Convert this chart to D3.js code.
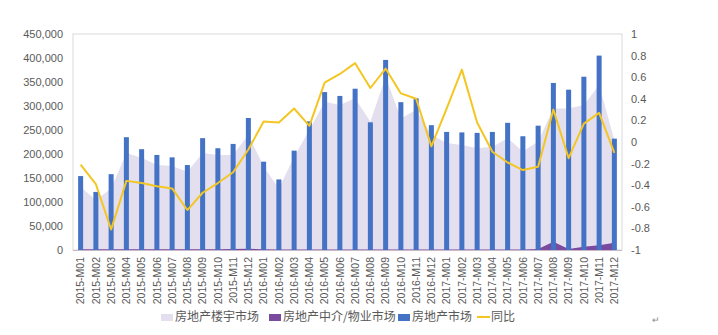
<!DOCTYPE html>
<html><head><meta charset="utf-8">
<script src="https://cdn.jsdelivr.net/npm/d3@7"></script>
<style>body{margin:0;background:#fff}svg{display:block}text{font-family:"Noto Sans CJK SC","Liberation Sans",sans-serif}</style>
</head><body><svg id="c" width="718" height="335"></svg>
<script>
const months = [
"2015-M01","2015-M02","2015-M03","2015-M04","2015-M05","2015-M06","2015-M07","2015-M08","2015-M09","2015-M10","2015-M11","2015-M12",
"2016-M01","2016-M02","2016-M03","2016-M04","2016-M05","2016-M06","2016-M07","2016-M08","2016-M09","2016-M10","2016-M11","2016-M12",
"2017-M01","2017-M02","2017-M03","2017-M04","2017-M05","2017-M06","2017-M07","2017-M08","2017-M09","2017-M10","2017-M11","2017-M12"];
const building = [131000,104000,128000,202000,192000,177000,175000,163000,202000,198000,198000,240000,
174000,128000,194000,250000,309000,302000,316000,267000,361000,274000,292000,240000,
223000,219000,212000,215000,233000,205000,226000,295000,295000,302000,344000,229000];
const agency = [1500,1500,1500,1500,1500,1500,1500,1500,1500,1500,2000,2500,
1500,1000,1000,1000,1000,1000,1000,1000,1000,1000,1000,1000,
1000,1000,1000,1000,1000,1000,2000,17000,2000,7000,10000,15000];
const total = [154000,121000,158000,235000,210000,198000,193000,177000,233000,212000,221000,275000,
184000,147000,207000,268000,329000,321000,336000,266000,396000,308000,316000,260000,
246000,245000,244000,246000,265000,237000,259000,348000,334000,361000,405000,232000];
const yoy = [-0.21,-0.39,-0.81,-0.36,-0.38,-0.41,-0.43,-0.63,-0.47,-0.38,-0.28,-0.07,
0.19,0.18,0.31,0.15,0.55,0.63,0.73,0.50,0.68,0.45,0.40,-0.04,
0.31,0.67,0.18,-0.09,-0.19,-0.26,-0.23,0.30,-0.15,0.17,0.27,-0.10];
const leftTicks = [0,50000,100000,150000,200000,250000,300000,350000,400000,450000];
const rightTicks = [-1,-0.8,-0.6,-0.4,-0.2,0,0.2,0.4,0.6,0.8,1];
const legendItems = ["房地产楼宇市场","房地产中介/物业市场","房地产市场","同比"];

const L=73,R=622,T=34,B=250;
const svg=d3.select("#c");
const x=d3.scaleBand().domain(months).range([L,R]).paddingInner(0).paddingOuter(0);
const cx=d=>x(d)+x.bandwidth()/2;
const yL=d3.scaleLinear().domain([0,450000]).range([B,T]);
const yR=d3.scaleLinear().domain([-1,1]).range([B,T]);

// plot border
svg.append("rect").attr("x",L).attr("y",T).attr("width",R-L).attr("height",B-T)
  .attr("fill","none").attr("stroke","#d9d9d9").attr("stroke-width",1);

// building area
svg.append("path").datum(months.map((m,i)=>[cx(m),building[i]]))
  .attr("fill","#e3dfee")
  .attr("d",d3.area().x(d=>d[0]).y0(yL(0)).y1(d=>yL(d[1])));
// agency area
svg.append("path").datum(months.map((m,i)=>[cx(m),agency[i]]))
  .attr("fill","#7a4a9e")
  .attr("d",d3.area().x(d=>d[0]).y0(yL(0)).y1(d=>yL(d[1])));

// bars
const bw=5;
svg.selectAll("rect.bar").data(months).enter().append("rect").attr("class","bar")
  .attr("x",d=>cx(d)-bw/2).attr("width",bw)
  .attr("y",(d,i)=>yL(total[i])).attr("height",(d,i)=>yL(0)-yL(total[i]))
  .attr("fill","#4472c4");

// bottom axis line
svg.append("line").attr("x1",L).attr("x2",R).attr("y1",B+0.5).attr("y2",B+0.5).attr("stroke","#c9b6c9");

// line
svg.append("path").datum(months.map((m,i)=>[cx(m),yoy[i]]))
  .attr("fill","none").attr("stroke","#f3c623").attr("stroke-width",2).attr("stroke-linejoin","round")
  .attr("d",d3.line().x(d=>d[0]).y(d=>yR(d[1])));

// left axis
const la=svg.append("g").attr("transform",`translate(${L},0)`)
  .call(d3.axisLeft(yL).tickValues(leftTicks).tickSize(0).tickPadding(10).tickFormat(d3.format(",")));
la.select(".domain").remove();
la.selectAll("text").attr("fill","#595959").style("font-size","11px").style("font-family","'Liberation Sans',sans-serif");

// right axis
const ra=svg.append("g").attr("transform",`translate(${R},0)`)
  .call(d3.axisRight(yR).tickValues(rightTicks).tickSize(0).tickPadding(9).tickFormat(d=>String(+d.toFixed(1))));
ra.select(".domain").remove();
ra.selectAll("text").attr("fill","#595959").style("font-size","11px").style("font-family","'Liberation Sans',sans-serif");

// x axis labels
const xa=svg.append("g").attr("transform",`translate(0,${B})`)
  .call(d3.axisBottom(x).tickSize(0).tickPadding(0));
xa.select(".domain").remove();
xa.selectAll("text").attr("fill","#595959").style("font-size","10.5px").style("font-family","'Liberation Sans',sans-serif")
  .attr("text-anchor","end").attr("dy","0.35em")
  .attr("transform",function(d){return `translate(0,7) rotate(-90)`;}).attr("x",0).attr("y",0);

// legend
const ly=317;
const lg=svg.append("g").style("font-size","12px").attr("fill","#595959");
const items=[
 {t:legendItems[0],x:161,type:"rect",c:"#e3dfee"},
 {t:legendItems[1],x:269,type:"rect",c:"#7a4a9e"},
 {t:legendItems[2],x:398,type:"rect",c:"#4472c4"},
 {t:legendItems[3],x:477,type:"line",c:"#f3c623"}];
items.forEach(it=>{
  if(it.type==="rect") lg.append("rect").attr("x",it.x).attr("y",ly-3).attr("width",12).attr("height",7).attr("fill",it.c);
  else lg.append("line").attr("x1",it.x).attr("x2",it.x+13).attr("y1",ly).attr("y2",ly).attr("stroke",it.c).attr("stroke-width",2);
  lg.append("text").attr("x",it.x+14).attr("y",ly).attr("dy","0.35em").attr("fill","#595959").text(it.t);
});
svg.append("text").attr("x",652).attr("y",323).attr("fill","#888").style("font-size","9px").text("↵");
</script></body></html>
